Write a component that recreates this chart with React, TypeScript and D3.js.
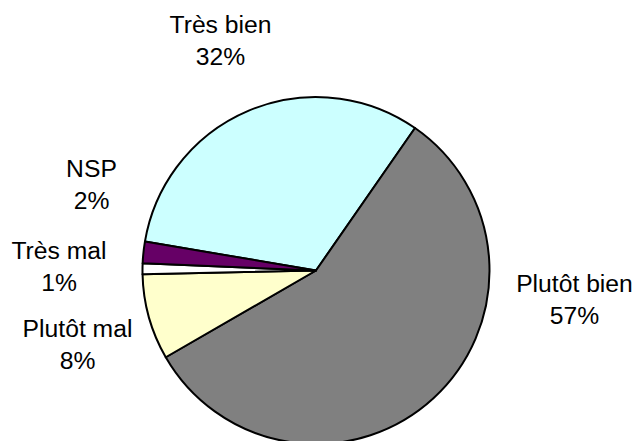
import React from "react";
import * as d3 from "d3";

const categories = ["Très bien", "Plutôt bien", "Plutôt mal", "Très mal", "NSP"];
const values = [32, 57, 8, 1, 2];
const percentLabels = ["32%", "57%", "8%", "1%", "2%"];
const colors = ["#CCFFFF", "#808080", "#FFFFCC", "#FFFFFF", "#660066"];

// label anchor (center x, first baseline y)
const labelLayout: [number, number][] = [
  [220.5, 32.5],
  [574.5, 291.5],
  [77.5, 336.5],
  [59, 258.5],
  [91.5, 177],
];

const W = 637;
const H = 441;
const CX = 316;
const CY = 270.5;
const R = 173.5;
const START = (-80.4 * Math.PI) / 180;

export default function App() {
  const pie = d3
    .pie<number>()
    .sort(null)
    .startAngle(START)
    .endAngle(START + 2 * Math.PI)
    .value((d) => d);
  const arcs = pie(values);
  const arc = d3.arc<d3.PieArcDatum<number>>().innerRadius(0).outerRadius(R);

  return (
    <svg
      width={W}
      height={H}
      style={{ position: "absolute", left: 0, top: 0, background: "#fff" }}
      fontFamily="'Liberation Sans', Arial, sans-serif"
    >
      <rect width={W} height={H} fill="#fff" />
      <g transform={`translate(${CX},${CY})`}>
        {arcs.map((a, i) => (
          <path
            key={i}
            d={arc(a) || ""}
            fill={colors[i]}
            stroke="#000"
            strokeWidth={2}
            strokeLinejoin="round"
          />
        ))}
      </g>
      {categories.map((c, i) => (
        <text
          key={c}
          x={labelLayout[i][0]}
          y={labelLayout[i][1]}
          textAnchor="middle"
          fontSize={24.7}
          fill="#000"
        >
          <tspan x={labelLayout[i][0]}>{c}</tspan>
          <tspan x={labelLayout[i][0]} dy={32}>
            {percentLabels[i]}
          </tspan>
        </text>
      ))}
    </svg>
  );
}
